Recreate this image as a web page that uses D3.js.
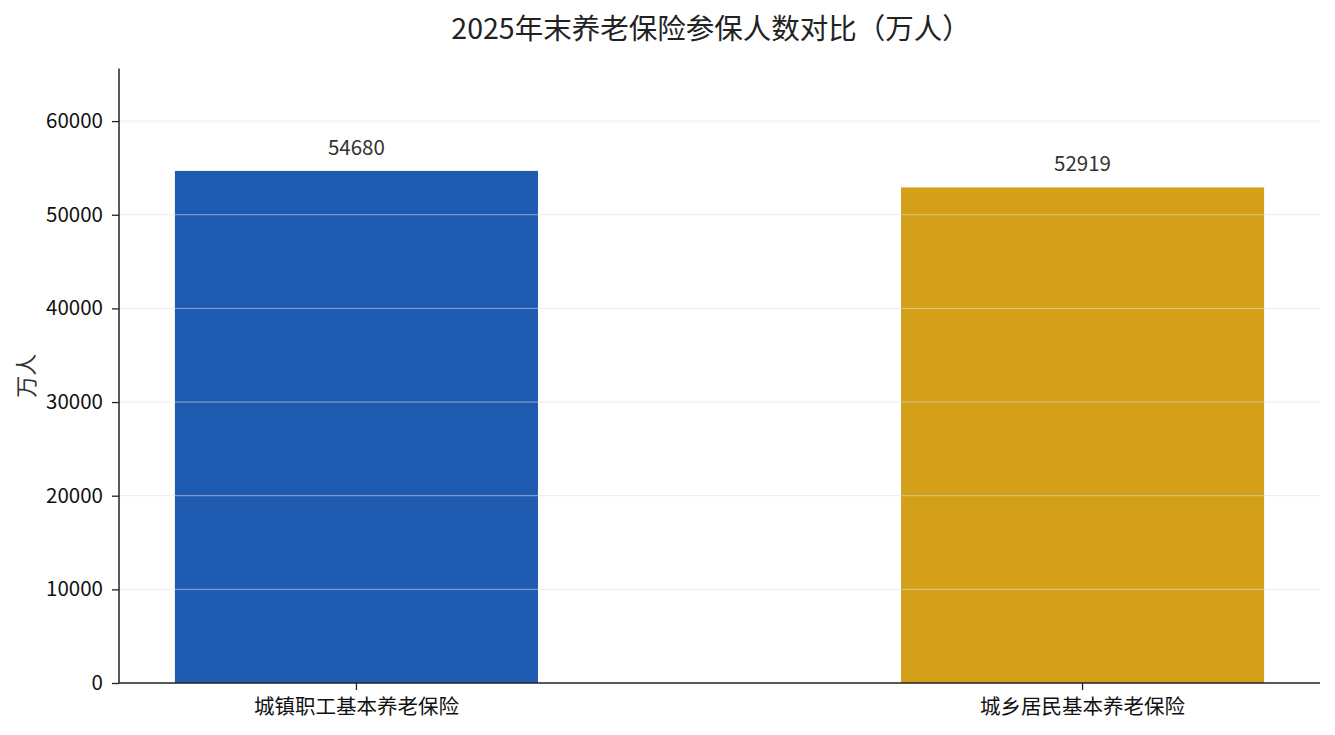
<html><head><meta charset="UTF-8">
<script src="https://cdn.jsdelivr.net/npm/d3@7/dist/d3.min.js"></script>
<style>
  body { margin: 0; background: #fff; font-family: "Noto Sans CJK SC", "Noto Sans", sans-serif; }
</style>
</head>
<body>
<svg id="chart"></svg>
<script>
  var categories = ["城镇职工基本养老保险", "城乡居民基本养老保险"];
  var values = [54680, 52919];
  var colors = ["#1f5bb0", "#d4a01a"];
  var yTicks = [0, 10000, 20000, 30000, 40000, 50000, 60000];

  var width = 1335, height = 735;
  var pad = {top: 68.5, left: 119, bottom: 52, right: 15};

  var svg = d3.select("#chart").attr("width", width).attr("height", height);

  var x = d3.scaleBand()
    .domain(categories)
    .range([pad.left, width - pad.right])
    .paddingInner(0.5)
    .paddingOuter(0.077);

  var y = d3.scaleLinear()
    .domain([0, d3.max(values) * 1.2])
    .range([height - pad.bottom, pad.top]);

  // 柱子
  svg.append("g").selectAll("rect")
    .data(values)
    .enter().append("rect")
    .attr("x", function (d, i) { return x(categories[i]); })
    .attr("y", function (d) { return y(d); })
    .attr("width", x.bandwidth())
    .attr("height", function (d) { return y(0) - y(d); })
    .attr("fill", function (d, i) { return colors[i]; });

  // 网格线（在柱子上面）
  svg.append("g").selectAll("line")
    .data(yTicks.slice(1))
    .enter().append("line")
    .attr("x1", pad.left).attr("x2", width - pad.right)
    .attr("y1", function (d) { return y(d); })
    .attr("y2", function (d) { return y(d); })
    .attr("stroke", "#e0e0e0")
    .attr("stroke-opacity", 0.6)
    .attr("stroke-width", 1);

  // 数值标签
  svg.append("g").selectAll("text")
    .data(values)
    .enter().append("text")
    .attr("x", function (d, i) { return x(categories[i]) + x.bandwidth() / 2; })
    .attr("y", function (d) { return y(d) - 16; })
    .attr("text-anchor", "middle")
    .attr("font-size", 20.5)
    .attr("fill", "#333")
    .text(function (d) { return d; });

  // 坐标轴
  var yAxis = svg.append("g")
    .attr("transform", "translate(" + pad.left + ",0)")
    .call(d3.axisLeft(y).tickValues(yTicks).tickSize(7).tickPadding(9).tickFormat(d3.format("d")));
  var xAxis = svg.append("g")
    .attr("transform", "translate(0," + (height - pad.bottom) + ")")
    .call(d3.axisBottom(x).tickSize(7).tickPadding(9));

  [xAxis, yAxis].forEach(function (g) {
    g.select(".domain").attr("stroke", "#222").attr("stroke-width", 1.5);
    g.selectAll(".tick line").attr("stroke", "#222").attr("stroke-width", 1.3);
    g.selectAll(".tick text").attr("font-size", 20.5).attr("fill", "#111")
      .attr("font-family", "'Noto Sans CJK SC', sans-serif");
  });
  yAxis.select(".domain").attr("d", "M0," + pad.top + "V" + y(0));
  xAxis.select(".domain").attr("d", "M" + pad.left + ",0H" + (width - pad.right));

  // 标题
  svg.append("text")
    .attr("x", 711)
    .attr("y", 39)
    .attr("text-anchor", "middle")
    .attr("font-size", 28.5)
    .attr("fill", "#222")
    .text("2025年末养老保险参保人数对比（万人）");

  // y轴标签
  svg.append("text")
    .attr("transform", "translate(34," + ((pad.top + y(0)) / 2) + ") rotate(-90)")
    .attr("text-anchor", "middle")
    .attr("font-size", 22)
    .attr("fill", "#333")
    .text("万人");
</script>
</body></html>
